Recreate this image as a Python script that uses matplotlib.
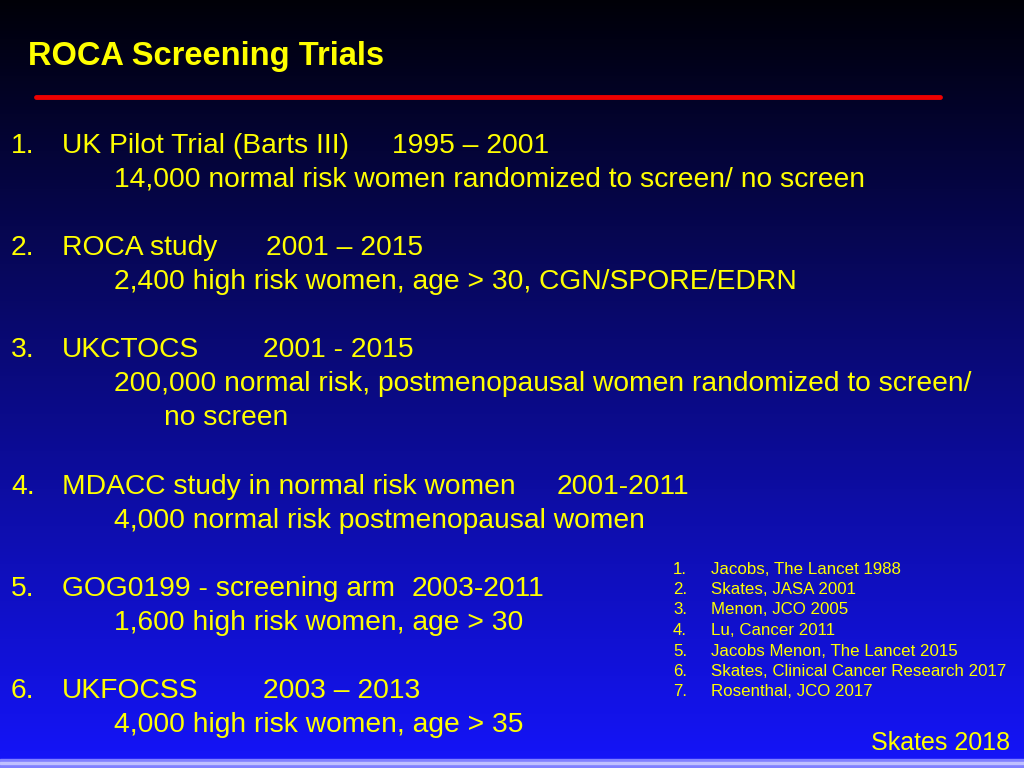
import numpy as np
import matplotlib
matplotlib.use("Agg")
import matplotlib.pyplot as plt

title = "ROCA Screening Trials"
numbers = ["1.", "2.", "3.", "4.", "5.", "6."]
trials = ["UK Pilot Trial (Barts III)", "ROCA study", "UKCTOCS",
          "MDACC study in normal risk women", "GOG0199 - screening arm", "UKFOCSS"]
periods = ["1995 \u2013 2001", "2001 \u2013 2015", "2001 - 2015", "2001-2011", "2003-2011", "2003 \u2013 2013"]
period_x = [392, 266, 263, 557, 412, 263]
details = ["14,000 normal risk women randomized to screen/ no screen",
           "2,400 high risk women, age > 30, CGN/SPORE/EDRN",
           "200,000 normal risk, postmenopausal women randomized to screen/",
           "4,000 normal risk postmenopausal women",
           "1,600 high risk women, age > 30",
           "4,000 high risk women, age > 35"]
head_y = [146, 248, 350, 487, 589, 691]
references = ["Jacobs, The Lancet 1988", "Skates, JASA 2001", "Menon, JCO 2005",
              "Lu, Cancer 2011", "Jacobs Menon, The Lancet 2015",
              "Skates, Clinical Cancer Research 2017", "Rosenthal, JCO 2017"]
footer = "Skates 2018"

fig = plt.figure(figsize=(10.24, 7.68), dpi=100)
ax = fig.add_axes([0, 0, 1, 1])
ax.set_xlim(0, 1024); ax.set_ylim(768, 0); ax.axis("off")

t = np.linspace(0, 1, 256)[:, None]
top = np.array([0.0, 0.0, 0.03]); bot = np.array([0.08, 0.08, 0.98])
grad = top + (bot - top) * t
img = np.repeat(grad[:, None, :], 2, axis=1).reshape(256, 2, 3)
ax.imshow(img, extent=[0, 1024, 768, 0], aspect="auto", zorder=0)
ax.axhspan(759, 768, color="#8080ff", zorder=1)
ax.axhspan(762, 764, color="#c0c0ff", zorder=1)

fam = "Liberation Sans"
yel = "#ffff00"
fs = 20.3
ax.text(28, 57, title, color=yel, fontsize=23.5, fontweight="bold", family=fam, va="center")
ax.plot([36, 940], [97, 97], color="#ee0000", lw=3.5, solid_capstyle="round")

for n, tr, p, px, d, y in zip(numbers, trials, periods, period_x, details, head_y):
    ax.text(11, y, n, color=yel, fontsize=fs, family=fam, va="center")
    ax.text(62, y, tr, color=yel, fontsize=fs, family=fam, va="center")
    ax.text(px, y, p, color=yel, fontsize=fs, family=fam, va="center")
    ax.text(114, y + 34, d, color=yel, fontsize=fs, family=fam, va="center")
ax.text(164, 418, "no screen", color=yel, fontsize=fs, family=fam, va="center")

for i, r in enumerate(references):
    y = 569 + i * 20.5
    ax.text(673, y, f"{i+1}.", color=yel, fontsize=12.2, family=fam, va="center")
    ax.text(711, y, r, color=yel, fontsize=12.2, family=fam, va="center")
ax.text(1010, 743, footer, color=yel, fontsize=18, family=fam, va="center", ha="right")

fig.savefig("out.png", dpi=100)
